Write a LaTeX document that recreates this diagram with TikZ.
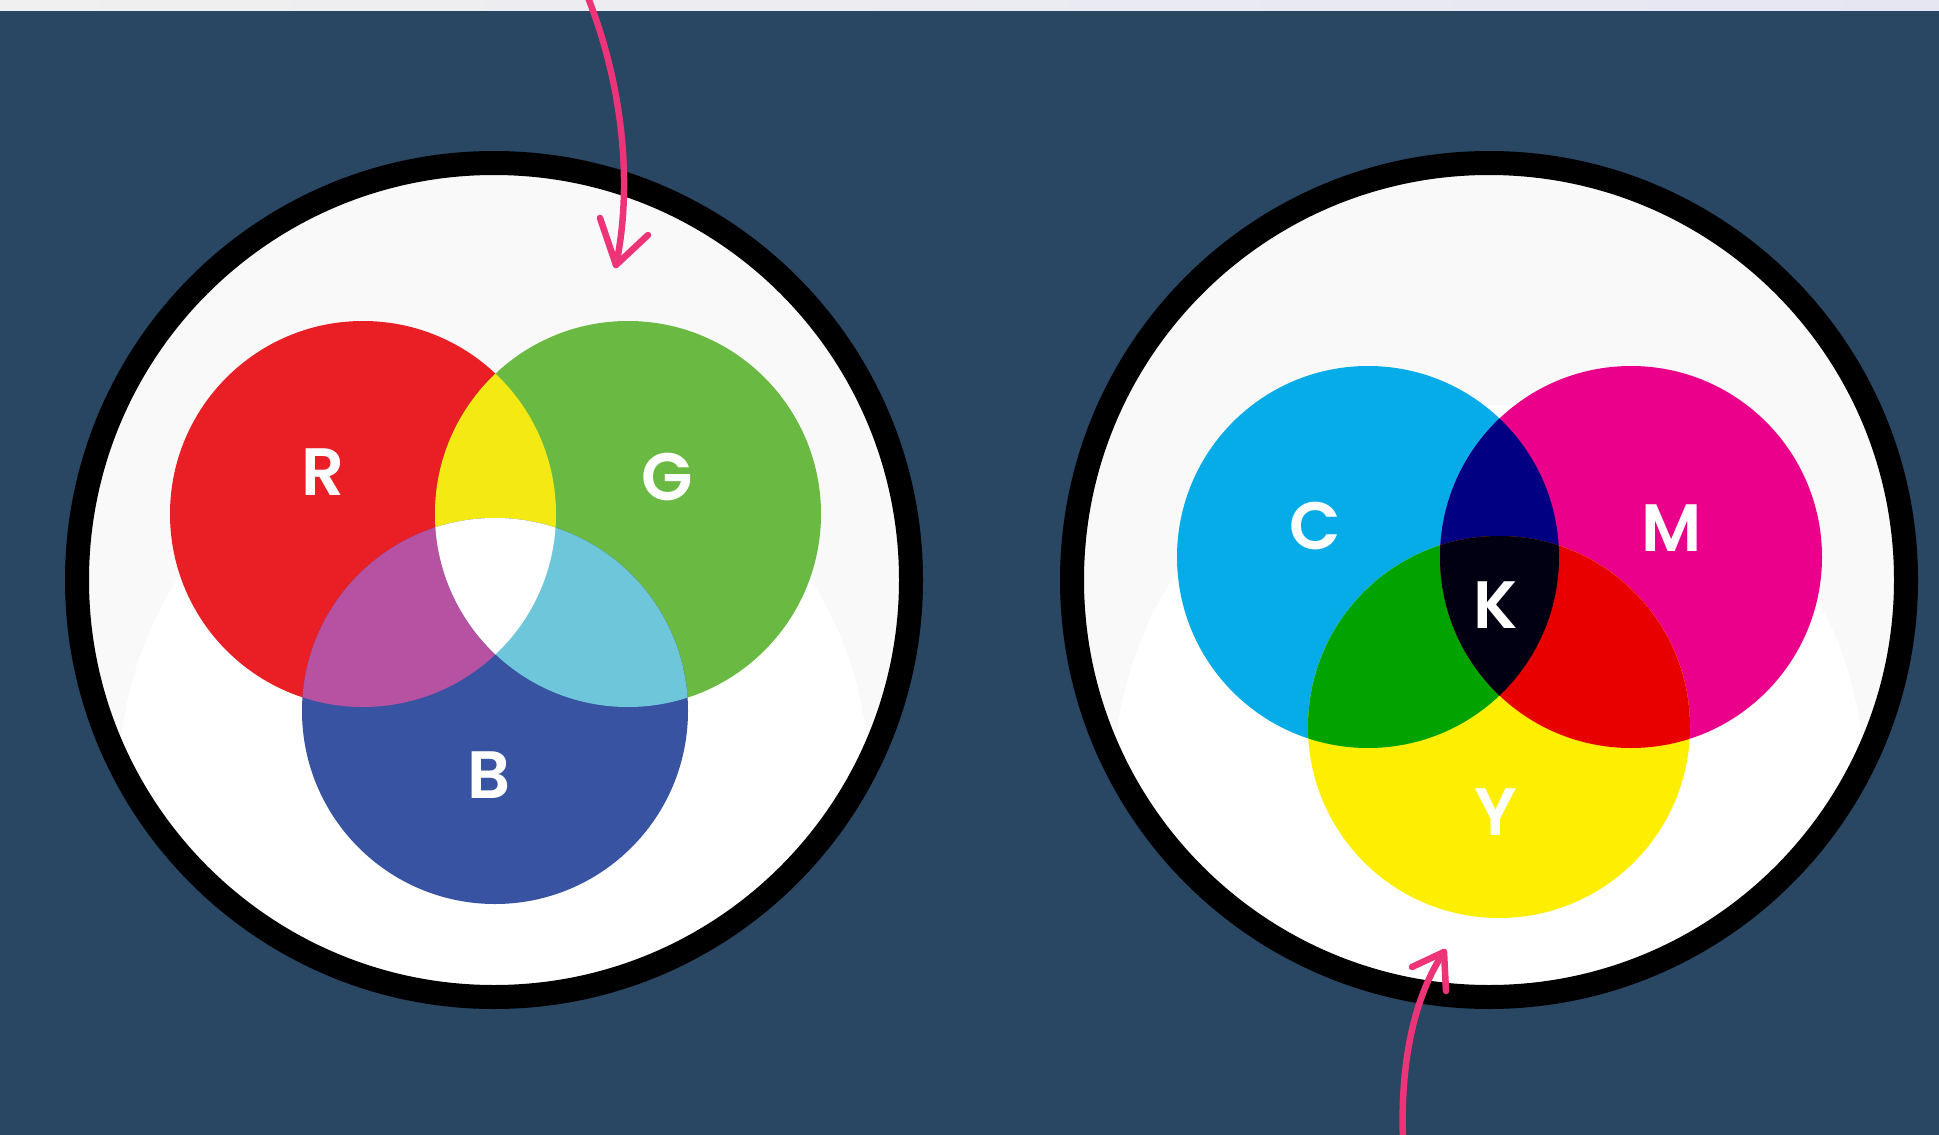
\documentclass[tikz,border=0pt]{standalone}
\usepackage{fontspec}
\newfontfamily\pop{Poppins SemiBold}
\begin{document}
\begin{tikzpicture}[x=1pt,y=-1pt,
  ring/.style={draw=black, line width=24pt},
  lbl/.style={text=white, font=\pop\fontsize{67}{67}\selectfont, inner sep=0pt},
  pinkline/.style={draw=arrowpink, line width=6.5pt, line cap=round, line join=round}]
\definecolor{navy}{HTML}{294663}
\definecolor{stripL}{HTML}{F0F0F0}
\definecolor{stripR}{HTML}{E6E6F3}
\definecolor{ringbg}{HTML}{F9F9FA}
\definecolor{cR}{HTML}{EA1F25}
\definecolor{cG}{HTML}{6AB943}
\definecolor{cB}{HTML}{3853A2}
\definecolor{cRG}{HTML}{F4E912}
\definecolor{cRB}{HTML}{B652A1}
\definecolor{cGB}{HTML}{6EC6DA}
\definecolor{cC}{HTML}{05ACE8}
\definecolor{cM}{HTML}{EA008B}
\definecolor{cY}{HTML}{FEEF00}
\definecolor{cCM}{HTML}{020082}
\definecolor{cCY}{HTML}{00A300}
\definecolor{cMY}{HTML}{E80000}
\definecolor{cK}{HTML}{000012}
\definecolor{arrowpink}{HTML}{EE3479}
\useasboundingbox (0,0) rectangle (1939,1135);
\fill[navy] (0,0) rectangle (1939,1135);
\shade[left color=stripL, right color=stripR] (0,0) rectangle (1939,10);
% ring centres
\coordinate (L) at (494,580);
\coordinate (Rt) at (1489,580);
\foreach \c in {L,Rt}{
  \fill[ringbg] (\c) circle[radius=417];
  \begin{scope}
    \clip (\c) circle[radius=417];
    \fill[white] ([yshift=-200pt]\c) circle[radius=375];
  \end{scope}
  \draw[ring] (\c) circle[radius=417];
}
% RGB
\coordinate (R) at (363,514);
\coordinate (G) at (628,514);
\coordinate (B) at (495,711);
\def\rr{193}
\fill[cR] (R) circle[radius=\rr];
\fill[cG] (G) circle[radius=\rr];
\fill[cB] (B) circle[radius=\rr];
\begin{scope}\clip (R) circle[radius=\rr]; \fill[cRG] (G) circle[radius=\rr];\end{scope}
\begin{scope}\clip (R) circle[radius=\rr]; \fill[cRB] (B) circle[radius=\rr];\end{scope}
\begin{scope}\clip (G) circle[radius=\rr]; \fill[cGB] (B) circle[radius=\rr];\end{scope}
\begin{scope}\clip (R) circle[radius=\rr]; \clip (G) circle[radius=\rr]; \fill[white] (B) circle[radius=\rr];\end{scope}
% CMY
\coordinate (C) at (1368,557);
\coordinate (M) at (1631,557);
\coordinate (Y) at (1499,727);
\def\rc{191}
\fill[cC] (C) circle[radius=\rc];
\fill[cM] (M) circle[radius=\rc];
\fill[cY] (Y) circle[radius=\rc];
\begin{scope}\clip (C) circle[radius=\rc]; \fill[cCM] (M) circle[radius=\rc];\end{scope}
\begin{scope}\clip (C) circle[radius=\rc]; \fill[cCY] (Y) circle[radius=\rc];\end{scope}
\begin{scope}\clip (M) circle[radius=\rc]; \fill[cMY] (Y) circle[radius=\rc];\end{scope}
\begin{scope}\clip (C) circle[radius=\rc]; \clip (M) circle[radius=\rc]; \fill[cK] (Y) circle[radius=\rc];\end{scope}
% labels
\node[lbl] (tR) at (323,472) {R};
\node[lbl] (tG) at (667,477) {G};
\node[lbl] (tB) at (489,775) {B};
\node[lbl] (tC) at (1315,526) {C};
\node[lbl] (tM) at (1672,528) {M};
\node[lbl] (tK) at (1496,605) {K};
\node[lbl] (tY) at (1496,812) {Y};
% arrows
\coordinate (a1s) at (587,-5);
\coordinate (a1t) at (616,265);
\coordinate (a1l) at (600,218);
\coordinate (a1r) at (648,235);
\draw[pinkline] (a1s) .. controls (625,90) and (632,190) .. (a1t);
\draw[pinkline] (a1l) -- (a1t) -- (a1r);
\coordinate (a2s) at (1403,1140);
\coordinate (a2t) at (1444,952);
\coordinate (a2l) at (1412,967);
\coordinate (a2r) at (1446,991);
\draw[pinkline] (a2s) .. controls (1400,1060) and (1415,995) .. (a2t);
\draw[pinkline] (a2l) -- (a2t) -- (a2r);
\end{tikzpicture}
\end{document}
